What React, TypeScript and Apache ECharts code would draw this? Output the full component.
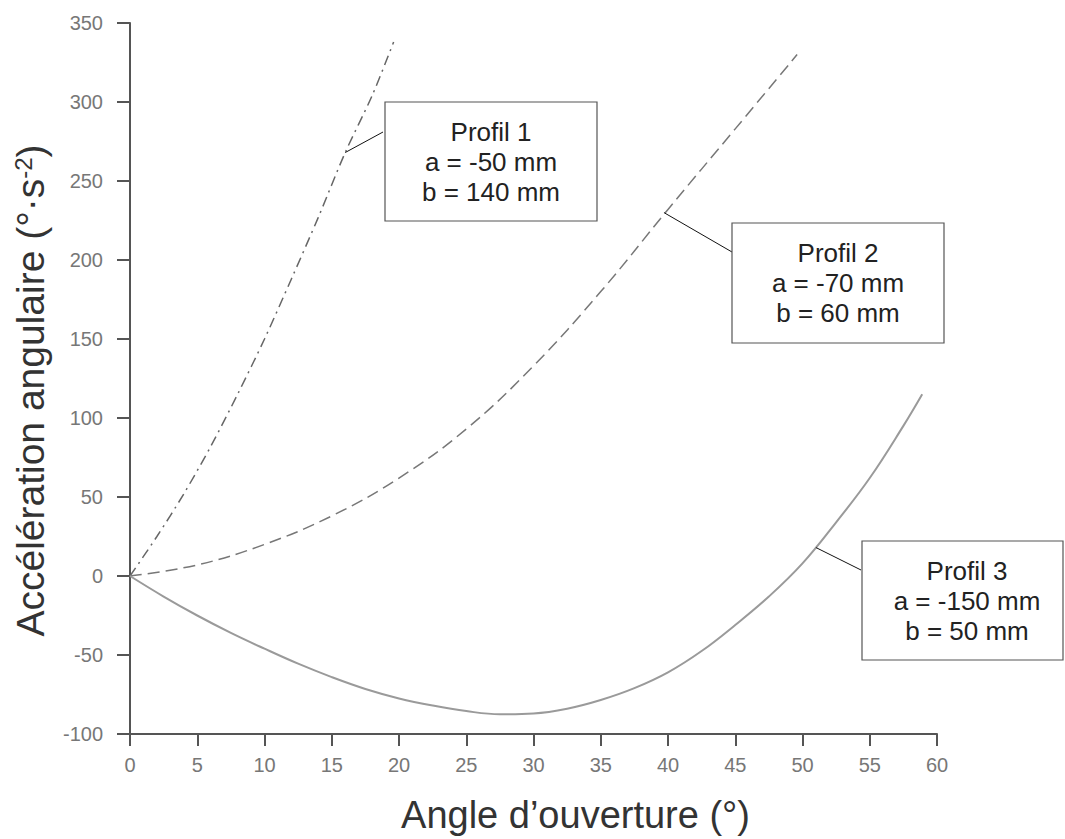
import React, { useEffect, useRef } from "react";
import * as echarts from "echarts";

// Profil 1 (dash-dot)
const p1X = [0, 2, 4, 6, 8, 10, 12, 14, 16, 18, 19.6];
const p1Y = [0, 25, 52, 82, 115, 150, 188, 227, 268, 304, 338];
// Profil 2 (dashed)
const p2X = [0, 5, 10, 15, 20, 25, 30, 35, 40, 45, 49.6];
const p2Y = [0, 7, 20, 38, 62, 93, 133, 180, 232, 283, 330];
// Profil 3 (solid)
const p3X = [0, 2.5, 5, 7.5, 10, 12.5, 15, 17.5, 20, 22.5, 25, 27.5, 30, 32.5, 35, 37.5, 40, 42.5, 45, 47.5, 50, 52.5, 55, 57.5, 58.9];
const p3Y = [0, -13, -25, -36, -46, -55.5, -64, -71.5, -77.5, -82, -85.5, -87.5, -87, -84, -78.5, -71, -61, -47.5, -31, -13, 8, 34, 62, 95, 115];

const labels = [
  "Profil 1\na = -50 mm\nb = 140 mm",
  "Profil 2\na = -70 mm\nb = 60 mm",
  "Profil 3\na = -150 mm\nb = 50 mm",
];
// points on curves where leaders end
const anchors: [number, number][] = [
  [16, 268],
  [39.7, 230],
  [51, 18],
];

const zip = (xs: number[], ys: number[]) => xs.map((x, i) => [x, ys[i]]);

export default function App() {
  const ref = useRef<HTMLDivElement>(null);
  useEffect(() => {
    if (!ref.current) return;
    const chart = echarts.init(ref.current, null, { renderer: "svg" });
    const font = "Liberation Sans, Arial, sans-serif";
    chart.setOption({
      animation: false,
      backgroundColor: "#ffffff",
      grid: { left: 130, right: 128, top: 23, bottom: 103 },
      xAxis: {
        type: "value",
        min: 0,
        max: 60,
        interval: 5,
        name: "Angle d\u2019ouverture (°)",
        nameLocation: "middle",
        nameGap: 62,
        nameTextStyle: { fontFamily: font, fontSize: 38, color: "#333", padding: [0, 0, 0, 84] },
        axisLine: { onZero: false, lineStyle: { color: "#555", width: 2 } },
        axisTick: { length: 12, lineStyle: { color: "#555", width: 2 } },
        axisLabel: { margin: 21, fontFamily: font, fontSize: 20, color: "#777" },
        splitLine: { show: false },
      },
      yAxis: {
        type: "value",
        min: -100,
        max: 350,
        interval: 50,
        name: "Accélération angulaire (°·s{sup|-2})",
        nameLocation: "middle",
        nameRotate: 90,
        nameGap: 80,
        nameTextStyle: {
          fontFamily: font,
          fontSize: 39,
          color: "#333",
          padding: [0, 24, 0, 0],
          rich: {
            sup: { fontFamily: font, fontSize: 24, color: "#333", verticalAlign: "top" },
          },
        },
        axisLine: { show: true, lineStyle: { color: "#555", width: 2 } },
        axisTick: { show: true, length: 13, lineStyle: { color: "#555", width: 2 } },
        axisLabel: { margin: 27, fontFamily: font, fontSize: 20, color: "#777" },
        splitLine: { show: false },
      },
      series: [
        {
          type: "line",
          data: zip(p1X, p1Y),
          smooth: 0.3,
          showSymbol: false,
          lineStyle: { color: "#666", width: 1.5, type: [10, 5, 2, 5] },
        },
        {
          type: "line",
          data: zip(p2X, p2Y),
          smooth: 0.4,
          showSymbol: false,
          lineStyle: { color: "#777", width: 1.5, type: [12, 6] },
        },
        {
          type: "line",
          data: zip(p3X, p3Y),
          smooth: 0.4,
          showSymbol: false,
          lineStyle: { color: "#9a9a9a", width: 2 },
        },
      ],
    });

    const boxes = [
      { x: 385, y: 102, w: 212, h: 119, lx: 383, ly: 132, cx: 491 },
      { x: 732, y: 223, w: 212, h: 120, lx: 732, ly: 252, cx: 838 },
      { x: 862, y: 541, w: 201, h: 119, lx: 861, ly: 570, cx: 967 },
    ];
    const graphics: any[] = [];
    boxes.forEach((b, i) => {
      const p = chart.convertToPixel({ gridIndex: 0 }, anchors[i]) as number[];
      graphics.push({
        type: "line",
        shape: { x1: b.lx, y1: b.ly, x2: p[0], y2: p[1] },
        style: { stroke: "#111", lineWidth: 1 },
        z: 100,
      });
      graphics.push({
        type: "rect",
        shape: { x: b.x, y: b.y, width: b.w, height: b.h },
        style: { fill: "#fff", stroke: "#555", lineWidth: 1.2 },
        z: 101,
      });
      graphics.push({
        type: "text",
        x: b.cx,
        y: b.y + b.h / 2,
        style: {
          text: labels[i],
          align: "center",
          verticalAlign: "middle",
          fontFamily: font,
          fontSize: 26,
          lineHeight: 30,
          fill: "#222",
        },
        z: 102,
      });
    });
    chart.setOption({ graphic: graphics });
    return () => chart.dispose();
  }, []);
  return (
    <div
      ref={ref}
      style={{ position: "fixed", left: 0, top: 0, width: 1065, height: 839 }}
    />
  );
}
